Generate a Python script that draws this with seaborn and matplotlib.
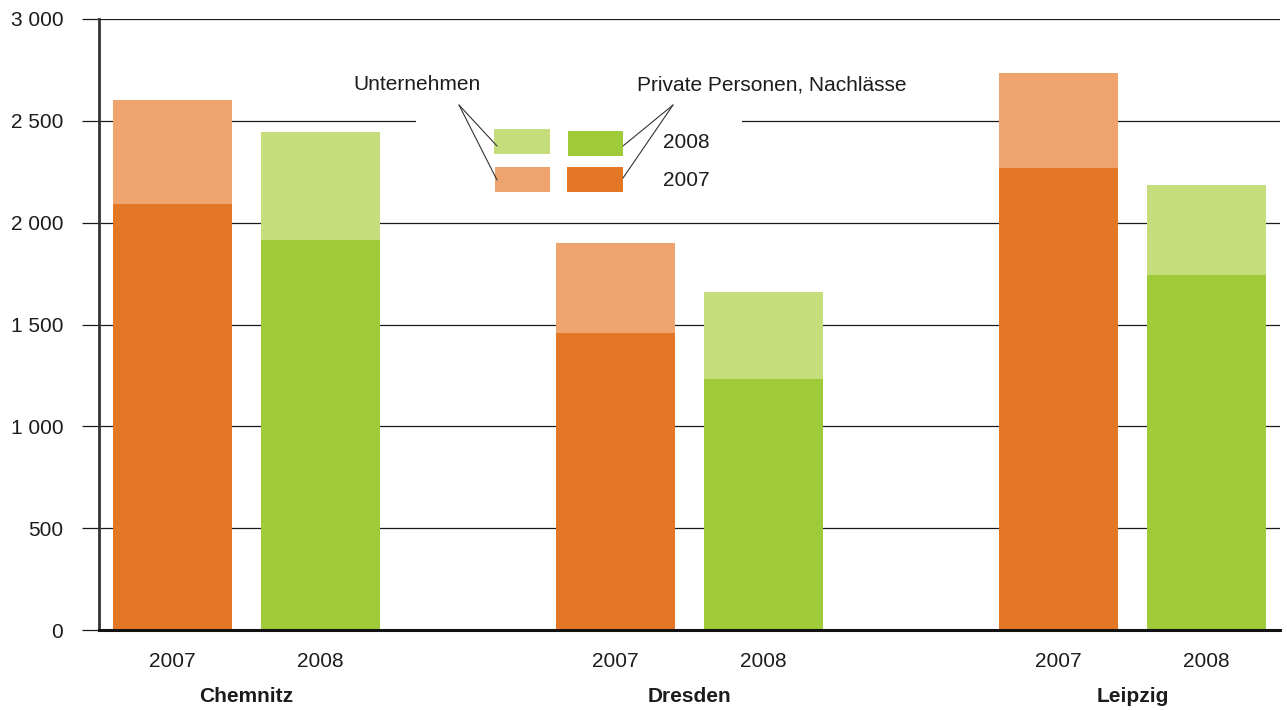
import numpy as np
import pandas as pd
import seaborn as sns
import matplotlib
matplotlib.use("Agg")
import matplotlib.pyplot as plt
from matplotlib.patches import Rectangle
from matplotlib.lines import Line2D
from matplotlib.transforms import Affine2D, blended_transform_factory
from matplotlib.ticker import FuncFormatter

# ---- data ----
cities = ["Chemnitz", "Chemnitz", "Dresden", "Dresden", "Leipzig", "Leipzig"]
years = ["2007", "2008", "2007", "2008", "2007", "2008"]
private = [2090, 1915, 1460, 1230, 2270, 1745]      # Private Personen, Nachlässe
total = [2600, 2445, 1900, 1660, 2735, 2185]        # incl. Unternehmen
city_names = ["Chemnitz", "Dresden", "Leipzig"]
yticks = [0, 500, 1000, 1500, 2000, 2500, 3000]

# positions (slots) for bars
pos = [0, 1, 3, 4, 6, 7]
df = pd.DataFrame({"pos": pos, "city": cities, "year": years,
                   "private": private, "total": total})

dark = {"2007": "#E37726", "2008": "#9FCB3A"}
light = {"2007": "#EFA36D", "2008": "#C5DD7B"}

sns.set_theme(style="white")
plt.rcParams["font.family"] = ["Liberation Sans", "DejaVu Sans"]
TXT = "#1E1B1C"

W, H = 1287, 710
fig = plt.figure(figsize=(W / 100, H / 100), dpi=100)
ax = fig.add_axes([99 / W, 1 - 630 / H, (1280 - 99) / W, (630 - 19) / H])

sns.barplot(data=df, x="pos", y="total", hue="year", palette=light,
            native_scale=True, dodge=False, errorbar=None, width=0.806,
            legend=False, ax=ax, saturation=1, linewidth=0)
sns.barplot(data=df, x="pos", y="private", hue="year", palette=dark,
            native_scale=True, dodge=False, errorbar=None, width=0.806,
            legend=False, ax=ax, saturation=1, linewidth=0)

ax.set_xlim(-0.5, 7.5)
ax.set_ylim(0, 3000)
ax.set_yticks(yticks)
ax.yaxis.set_major_formatter(FuncFormatter(lambda v, p: f"{int(v):,}".replace(",", " ")))
ax.set_axisbelow(True)
ax.yaxis.grid(True, color="#1A1A1A", linewidth=0.9)
ax.xaxis.grid(False)
ax.tick_params(axis="y", length=12.3, width=0.9, color="#1A1A1A", pad=13.5,
               labelsize=15, labelcolor=TXT, direction="out", left=True)
ax.set_xticks(pos, labels=years)
ax.tick_params(axis="x", length=0, pad=15.5, labelsize=15, labelcolor=TXT)
ax.set_xlabel("")
ax.set_ylabel("")

for s in ["top", "right"]:
    ax.spines[s].set_visible(False)
ax.spines["left"].set_color("#333333")
ax.spines["left"].set_linewidth(2.0)
ax.spines["bottom"].set_color("#111111")
ax.spines["bottom"].set_linewidth(2.2)
ax.spines["left"].set_zorder(5)
ax.spines["bottom"].set_zorder(5)

# city labels
bt = blended_transform_factory(ax.transData, ax.transAxes)
for i, c in enumerate(city_names):
    gx = np.mean([p for p, cc in zip(pos, cities) if cc == c])
    ax.text(gx, -67 / 611, c, transform=bt, ha="center", va="center",
            fontsize=15, fontweight="bold", color=TXT)

# ---- legend drawn in figure pixel coordinates ----
tr = Affine2D().scale(1 / W, -1 / H).translate(0, 1) + fig.transFigure

def rect(x0, y0, x1, y1, color, z):
    fig.patches.append(Rectangle((x0, y1), x1 - x0, y0 - y1, transform=tr,
                                 facecolor=color, edgecolor="none", zorder=z))

rect(416, 100, 742, 200, "white", 3)
rect(494, 129, 550, 154, light["2008"], 4)
rect(568, 131, 623, 156, dark["2008"], 4)
rect(495, 167, 550, 192, light["2007"], 4)
rect(567, 167, 623, 192, dark["2007"], 4)

for (x0, y0, x1, y1) in [(459, 105, 497, 146), (459, 105, 497, 180),
                         (673, 105, 623, 146), (673, 105, 623, 178)]:
    fig.lines.append(Line2D([x0, x1], [y0, y1], transform=tr, color="#333333",
                            linewidth=0.8, zorder=5))

fig.text(353, 85, "Unternehmen", transform=tr, fontsize=15, color=TXT,
         ha="left", va="center")
fig.text(637, 85, "Private Personen, Nachlässe", transform=tr, fontsize=15,
         color=TXT, ha="left", va="center")
fig.text(663, 143, "2008", transform=tr, fontsize=15, color=TXT, ha="left", va="center")
fig.text(663, 180, "2007", transform=tr, fontsize=15, color=TXT, ha="left", va="center")

fig.savefig("out.png", dpi=100)
